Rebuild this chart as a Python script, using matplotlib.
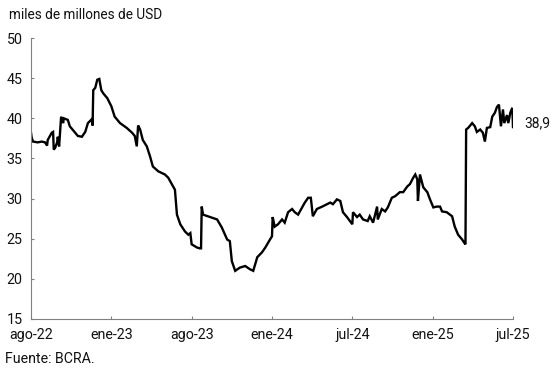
import matplotlib
matplotlib.use("Agg")
import matplotlib.pyplot as plt

plt.rcParams['font.family'] = ['Roboto', 'DejaVu Sans']

# trading-day index (0 = ago-22, 720 = jul-25) and reserves (miles de millones de USD)
day = [0, 1, 3, 10, 16, 21, 24, 25, 31, 33, 34, 36, 39, 40, 42, 45, 48, 49, 55, 58,
       66, 70, 76, 81, 85, 91, 92, 93, 96, 99, 102, 105, 108, 114, 120, 125, 133, 143,
       151, 155, 158, 160, 163, 167, 173, 178, 182, 190, 200, 205, 211, 215, 218, 223,
       230, 235, 238, 240, 248, 252, 254, 255, 257, 264, 278, 285, 293, 297, 300, 305,
       312, 320, 327, 332, 338, 345, 350, 357, 360, 361, 364, 369, 375, 379, 384, 390,
       394, 399, 405, 409, 414, 418, 421, 427, 435, 442, 447, 451, 457, 462, 466, 472,
       480, 481, 487, 491, 496, 503, 506, 511, 517, 518, 524, 529, 533, 539, 544, 551,
       556, 562, 566, 571, 574, 577, 578, 581, 586, 592, 596, 601, 606, 611, 614, 621,
       629, 633, 638, 644, 648, 649, 650, 653, 659, 663, 666, 671, 675, 678, 681, 686,
       689, 693, 696, 699, 702, 705, 707, 711, 713, 716, 719, 720]
reservas = [38.2, 37.6, 37.1, 37.0, 37.1, 37.0, 36.6, 37.3, 38.2, 38.3, 36.1, 36.3, 37.0, 37.7, 36.5, 40.2, 39.4, 40.0, 39.8, 39.0,
            38.2, 37.8, 37.7, 38.3, 39.4, 39.9, 39.1, 43.5, 43.8, 44.8, 44.9, 43.5, 43.1, 42.5, 41.5, 40.2, 39.4, 38.8,
            38.2, 37.8, 36.5, 39.1, 38.6, 37.3, 36.5, 35.2, 34.0, 33.4, 33.0, 32.6, 31.7, 31.1, 28.0, 26.8,
            25.9, 25.5, 25.7, 24.3, 23.9, 23.8, 23.8, 29.0, 28.0, 27.8, 27.4, 26.4, 24.9, 24.7, 22.2, 21.0,
            21.4, 21.6, 21.2, 21.0, 22.7, 23.3, 23.9, 24.9, 25.3, 27.7, 26.5, 26.8, 27.4, 27.0, 28.3, 28.7,
            28.3, 28.0, 28.9, 29.5, 30.1, 30.1, 27.8, 28.7, 29.0, 29.3, 29.5, 29.3, 29.9, 29.7, 28.3, 27.7,
            26.8, 28.3, 27.7, 28.0, 27.4, 27.2, 27.8, 27.0, 29.0, 27.4, 28.7, 28.4, 28.9, 30.1, 30.3, 30.8,
            30.8, 31.5, 31.8, 32.6, 33.0, 32.4, 29.7, 33.0, 31.4, 30.8, 29.9, 28.9, 29.0, 29.0, 28.4, 28.3,
            27.8, 26.5, 25.5, 24.9, 24.4, 24.3, 38.6, 38.8, 39.4, 39.0, 38.3, 38.6, 38.2, 37.1, 38.8, 38.9,
            40.2, 40.7, 41.4, 41.7, 39.0, 41.1, 39.4, 40.4, 39.4, 40.7, 41.3, 38.9]

tick_pos = [0, 120, 240, 360, 480, 600, 720]
tick_labels = ['ago-22', 'ene-23', 'ago-23', 'ene-24', 'jul-24', 'ene-25', 'jul-25']
y_ticks = [15, 20, 25, 30, 35, 40, 45, 50]
last_label = '38,9'

fig = plt.figure(figsize=(5.51, 3.75), dpi=100)
ax = fig.add_axes([31/551, 1-319/375, (513-31)/551, (319-38)/375])

ax.plot(day, reservas, color='black', lw=1.7, solid_joinstyle='miter')

ax.set_xlim(0, 720)
ax.set_ylim(15, 50)
ax.set_xticks(tick_pos)
ax.set_xticklabels(tick_labels)
ax.set_yticks(y_ticks)

for s in ['top', 'right']:
    ax.spines[s].set_visible(False)
for s in ['left', 'bottom']:
    ax.spines[s].set_color('#808080')
    ax.spines[s].set_linewidth(0.8)

ax.tick_params(axis='both', direction='in', length=2, color='#808080', width=0.8,
               labelsize=10.3, labelcolor='#111111')
ax.tick_params(axis='y', pad=6)
ax.tick_params(axis='x', pad=6.5)

ax.annotate(last_label, xy=(day[-1], reservas[-1]), xytext=(8, 2.5),
            textcoords='offset points', va='center', ha='left', fontsize=10,
            color='#111111', annotation_clip=False)

fig.text(9/551, 1-15/375, 'miles de millones de USD', fontsize=9.8, va='center', ha='left',
         color='#111111')
fig.text(5/551, 1-359/375, 'Fuente: BCRA.', fontsize=10.2, va='center', ha='left',
         color='#111111')

fig.savefig('out.png', dpi=100)
